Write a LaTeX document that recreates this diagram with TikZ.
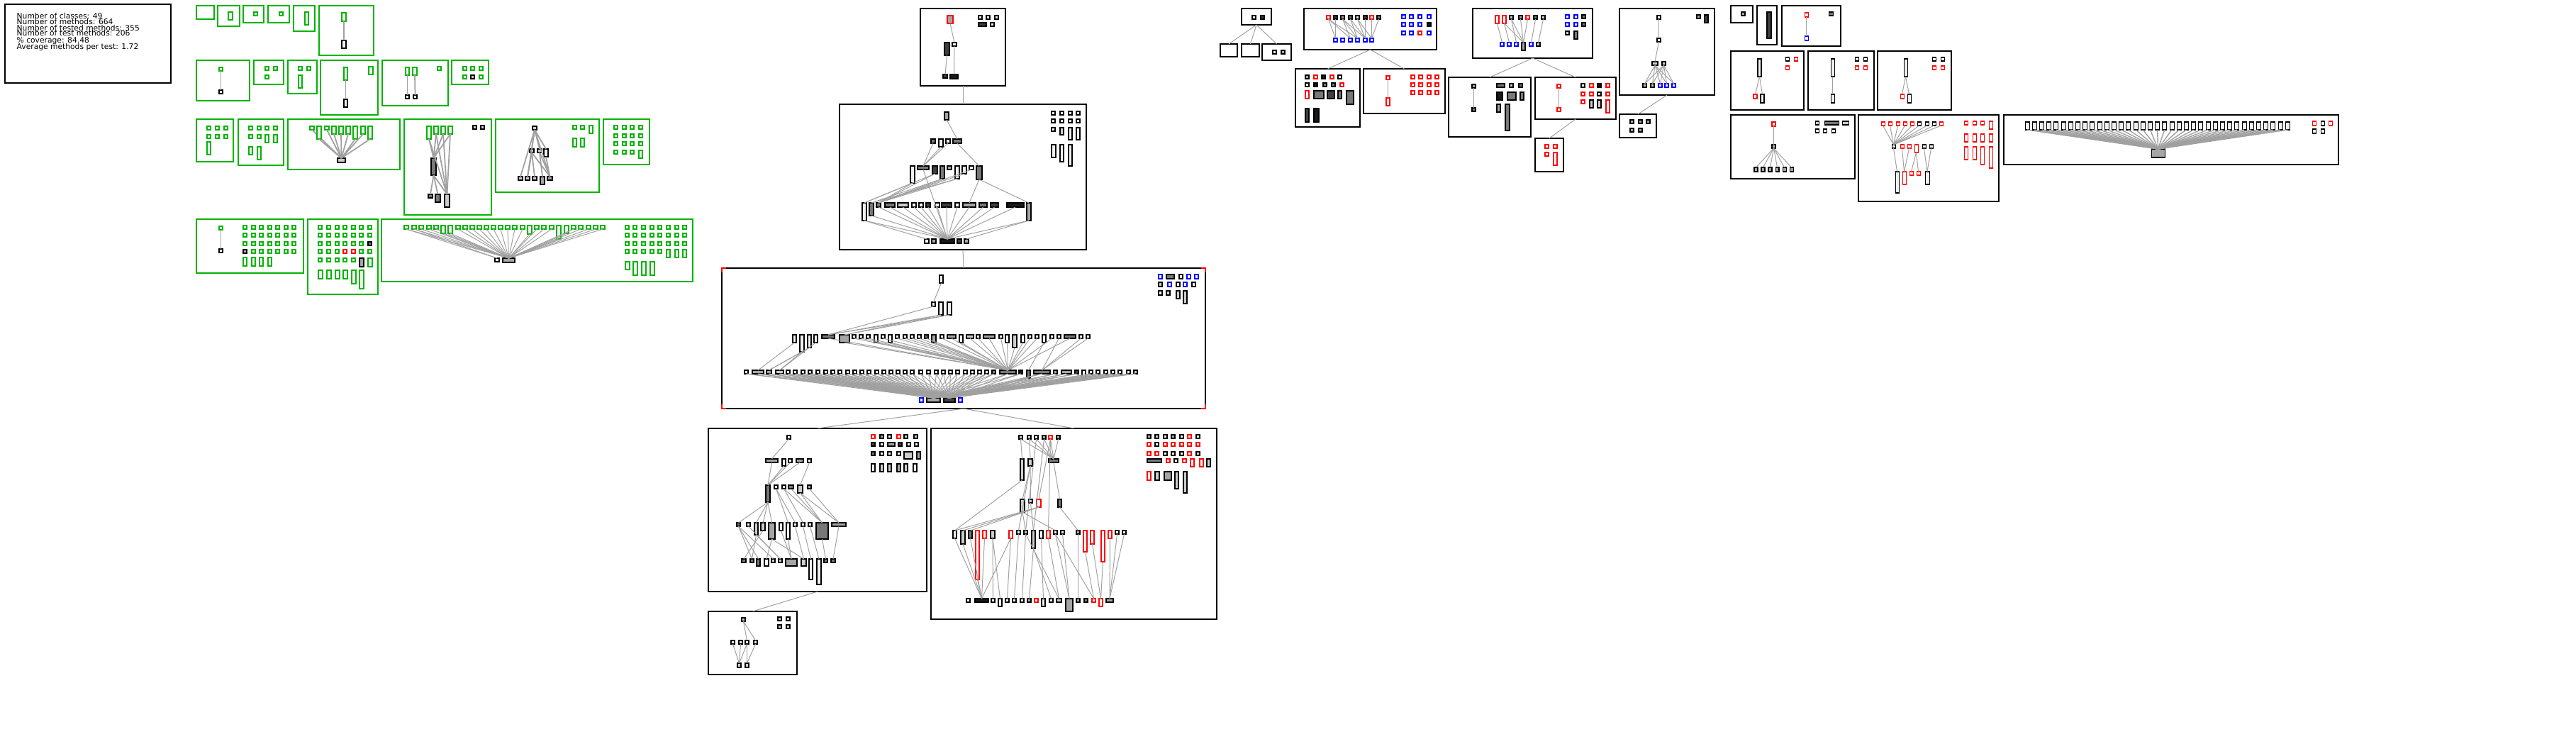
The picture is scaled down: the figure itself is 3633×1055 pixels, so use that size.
\documentclass[tikz,border=0pt]{standalone}
\usepackage{fontspec}
\setmainfont{DejaVu Sans}
\definecolor{wh}{RGB}{255,255,255}
\definecolor{lt}{RGB}{240,240,240}
\definecolor{ga}{RGB}{205,205,205}
\definecolor{gb}{RGB}{165,165,165}
\definecolor{gc}{RGB}{120,120,120}
\definecolor{gd}{RGB}{64,64,64}
\definecolor{kk}{RGB}{25,25,25}
\definecolor{bk}{RGB}{0,0,0}
\definecolor{rd}{RGB}{255,0,0}
\definecolor{bl}{RGB}{0,0,255}
\definecolor{gn}{RGB}{0,180,0}
\definecolor{eg}{RGB}{160,160,160}
\newcommand\pxu{0.1mm}
\newcommand\NNd[7]{\node[nd,fill=#6,draw=#7,minimum width={#4*\pxu},minimum height={#5*\pxu},anchor=north west] (#1) at (#2,#3) {};}
\newcommand\GNd[5]{\node[nd,fill=lt,draw=gn,line width=0.45pt,minimum width={#4*\pxu},minimum height={#5*\pxu},anchor=north west] (#1) at (#2,#3) {};}
\newcommand\CCl[6]{\node[#6,minimum width={(#4-#2)*\pxu},minimum height={(#5-#3)*\pxu},anchor=north west] (#1) at (#2,#3) {};}
\newcommand\EEd[2]{\draw[ed] (#1.south) -- (#2.north);}
\newcommand\EEg[2]{\draw[edg] (#1.south) -- (#2.north);}
\tikzset{
  nd/.style={rectangle,inner sep=0pt,outer sep=0pt,line width=0.3pt},
  ed/.style={draw=eg,line width=0.28pt},
  edg/.style={draw=eg,line width=0.5pt},
  bbox/.style={rectangle,draw=bk,line width=0.55pt,inner sep=0pt,outer sep=0pt,fill=white},
  gbox/.style={rectangle,draw=gn,line width=0.6pt,inner sep=0pt,outer sep=0pt,fill=white},
  stat/.style={anchor=base west,inner sep=0pt,font=\fontsize{3.05}{3.2}\selectfont},
}
\begin{document}
\begin{tikzpicture}[x=0.1mm,y=-0.1mm]
\fill[white] (0,0) rectangle (3633,1055);
\useasboundingbox (0,0) rectangle (3633,1055);

% ---------- statistics ----------
\CCl{stats}{7}{6}{241}{117}{bbox}
\node[stat] (s1) at (23,26) {Number of classes: 49};
\node[stat] (s2) at (23,34.7) {Number of methods: 664};
\node[stat] (s3) at (23,43.3) {Number of tested methods: 355};
\node[stat] (s4) at (23,50.7) {Number of test methods: 206};
\node[stat] (s5) at (23,60) {\% coverage: 84.48};
\node[stat] (s6) at (23,69) {Average methods per test: 1.72};

% ---------- green clusters ----------
\CCl{g1}{277}{8}{302}{27}{gbox}
\CCl{g2}{307}{8}{338}{37}{gbox} \GNd{g2a}{322}{17}{6}{11}
\CCl{g3}{343}{8}{372}{32}{gbox} \GNd{g3a}{358}{17}{5}{5}
\CCl{g4}{378}{8}{408}{32}{gbox} \GNd{g4a}{394}{17}{5}{5}
\CCl{g5}{414}{8}{444}{44}{gbox} \GNd{g5a}{430}{17}{5}{18}
\CCl{g6}{450}{8}{527}{78}{gbox} \GNd{g6a}{482}{18}{6}{12} \NNd{g6b}{482}{57}{6}{11}{lt}{bk} \EEg{g6a}{g6b}

\CCl{g7}{277}{85}{352}{142}{gbox} \GNd{g7a}{309}{95}{5}{5} \NNd{g7b}{309}{127}{5}{5}{wh}{bk} \EEg{g7a}{g7b}
\CCl{g8}{358}{85}{400}{119}{gbox} \GNd{g8a}{374}{94}{5}{5} \GNd{g8b}{386}{94}{5}{5} \GNd{g8c}{374}{106}{5}{5}
\CCl{g9}{406}{85}{447}{132}{gbox} \GNd{g9a}{421}{94}{5}{5} \GNd{g9b}{433}{94}{5}{5} \GNd{g9c}{421}{106}{5}{18}
\CCl{g10}{452}{85}{533}{162}{gbox} \GNd{g10a}{485}{95}{5}{18} \GNd{g10b}{520}{94}{6}{11} \NNd{g10c}{485}{140}{5}{11}{lt}{bk} \EEg{g10a}{g10c}
\CCl{g11}{539}{85}{632}{149}{gbox} \GNd{g11a}{572}{95}{5}{11} \GNd{g11b}{582}{95}{6}{11} \GNd{g11c}{617}{94}{5}{5}
\NNd{g11d}{572}{134}{5}{5}{wh}{bk} \NNd{g11e}{583}{134}{5}{5}{wh}{bk} \EEg{g11a}{g11d} \EEg{g11b}{g11e}
\CCl{g12}{637}{85}{689}{119}{gbox}
\GNd{g12a}{653}{94}{5}{5} \GNd{g12b}{664}{94}{5}{5} \GNd{g12c}{676}{94}{5}{5}
\GNd{g12d}{653}{106}{5}{5} \NNd{g12e}{664}{106}{5}{5}{ga}{bk} \GNd{g12f}{676}{106}{5}{5}

\CCl{g13}{277}{168}{329}{228}{gbox}
\foreach \x [count=\i] in {292,304,316}{\GNd{g13a\i}{\x}{178}{5}{5} \GNd{g13b\i}{\x}{190}{5}{5}}
\GNd{g13c}{292}{200}{5}{18}
\CCl{g14}{336}{168}{400}{233}{gbox}
\foreach \x [count=\i] in {351,363,374,386}{\GNd{g14a\i}{\x}{178}{5}{5}}
\GNd{g14b1}{351}{190}{5}{5} \GNd{g14b2}{363}{190}{5}{5} \GNd{g14b3}{374}{190}{5}{11} \GNd{g14b4}{386}{190}{5}{11}
\GNd{g14c1}{351}{207}{5}{11} \GNd{g14c2}{363}{207}{5}{18}
\CCl{g15}{406}{168}{564}{239}{gbox}
\NNd{g15b}{476}{223}{11}{6}{ga}{bk}
\foreach \x/\hh [count=\i] in {437/5,447/18,458/5,468/11,478/11,488/11,498/18,509/11,519/18}{\GNd{g15t\i}{\x}{178}{6}{\hh} \EEg{g15t\i}{g15b}}

\CCl{g16}{570}{168}{693}{303}{gbox}
\NNd{g16m}{608}{223}{7}{24}{gc}{bk}
\NNd{g16b1}{604}{274}{6}{5}{gc}{bk} \NNd{g16b2}{614}{274}{7}{11}{gc}{bk} \NNd{g16b3}{627}{274}{7}{18}{ga}{bk}
\foreach \x/\hh [count=\i] in {602/18,612/11,622/11,632/11}{\GNd{g16t\i}{\x}{178}{6}{\hh} \EEg{g16t\i}{g16m} \EEg{g16t\i}{g16b3}}
\NNd{g16s1}{667}{177}{5}{5}{ga}{bk} \NNd{g16s2}{678}{177}{5}{5}{ga}{bk}
\EEg{g16m}{g16b1} \EEg{g16m}{g16b2} \EEg{g16m}{g16b3}

\CCl{g17}{699}{168}{845}{271}{gbox}
\NNd{g17t}{751}{178}{6}{5}{ga}{bk}
\NNd{g17m1}{747}{210}{6}{5}{ga}{bk} \NNd{g17m2}{758}{210}{6}{5}{ga}{bk} \NNd{g17m3}{767}{210}{6}{11}{lt}{bk}
\NNd{g17b1}{731}{249}{6}{5}{ga}{bk} \NNd{g17b2}{741}{249}{6}{5}{ga}{bk} \NNd{g17b3}{751}{249}{6}{5}{ga}{bk}
\NNd{g17b4}{762}{249}{6}{11}{gb}{bk} \NNd{g17b5}{772}{249}{7}{5}{gb}{bk}
\foreach \b in {m1,m2,m3,b1,b2,b5}{\EEg{g17t}{g17\b}}
\EEg{g17m1}{g17b2} \EEg{g17m1}{g17b3} \EEg{g17m1}{g17b5} \EEg{g17m2}{g17b4} \EEg{g17m2}{g17b5} \EEg{g17m3}{g17b5}
\GNd{g17g1}{808}{177}{5}{5} \GNd{g17g2}{819}{177}{5}{5} \GNd{g17g3}{831}{177}{5}{11} \GNd{g17g4}{808}{195}{5}{12} \GNd{g17g5}{819}{195}{5}{12}

\CCl{g18}{851}{168}{916}{232}{gbox}
\foreach \x [count=\i] in {866,878,889,901}{\foreach \y [count=\j] in {177,189,200}{\GNd{g18-\i-\j}{\x}{\y}{5}{5}}}
\foreach \x [count=\i] in {866,878,889}{\GNd{g18-\i-4}{\x}{212}{5}{5}}
\GNd{g18-4-4}{901}{212}{5}{11}

\CCl{g19}{277}{309}{428}{385}{gbox}
\GNd{g19a}{309}{319}{5}{5} \NNd{g19b}{309}{351}{5}{5}{wh}{bk} \EEg{g19a}{g19b}
\foreach \x [count=\i] in {343,355,366,378,389,401,412}{\GNd{g19p\i}{\x}{318}{5}{5} \GNd{g19q\i}{\x}{329}{5}{5} \GNd{g19r\i}{\x}{341}{5}{5}}
\NNd{g19s1}{343}{352}{5}{5}{gb}{bk}
\foreach \x [count=\i] in {355,366,378,389,401,412}{\GNd{g19s-\i}{\x}{352}{5}{5}}
\foreach \x [count=\i] in {343,355,366,378}{\GNd{g19u\i}{\x}{363}{5}{12}}

\CCl{g20}{434}{309}{533}{415}{gbox}
\foreach \x [count=\i] in {449,461,473,484,496,507,519}{\GNd{g20a\i}{\x}{318}{5}{5} \GNd{g20b\i}{\x}{329}{5}{5}}
\foreach \x [count=\i] in {449,461,473,484,496,507}{\GNd{g20c\i}{\x}{341}{5}{5}}
\NNd{g20c7}{519}{341}{5}{5}{gc}{bk}
\foreach \x [count=\i] in {449,461,473,507,519}{\GNd{g20d\i}{\x}{352}{5}{5}}
\NNd{g20d6}{484}{352}{5}{5}{wh}{rd} \NNd{g20d7}{496}{352}{5}{5}{wh}{rd}
\foreach \x [count=\i] in {449,461,473,484,496}{\GNd{g20e\i}{\x}{364}{5}{5}}
\NNd{g20e6}{507}{364}{6}{12}{gb}{bk} \GNd{g20e7}{519}{364}{6}{12}
\foreach \x/\hh [count=\i] in {449/12,461/12,473/12,484/12,496/19,507/26}{\GNd{g20f\i}{\x}{381}{6}{\hh}}

\CCl{g21}{538}{309}{977}{397}{gbox}
\NNd{g21s}{698}{364}{6}{5}{wh}{bk} \NNd{g21b}{709}{364}{17}{6}{gb}{bk}
\foreach \x/\hh [count=\i] in {570/5,581/5,591/5,602/5,612/5,622/11,632/11,643/5,653/5,663/5,673/5,683/5,693/5,703/5,713/5,723/5,734/5,744/12,754/5,764/5,775/5,785/19,796/11,806/5,816/5,827/5,837/5,847/5}{\GNd{g21t\i}{\x}{318}{6}{\hh} \EEd{g21t\i}{g21b}}
\EEd{g21t1}{g21s} \EEd{g21t2}{g21s}
\foreach \x [count=\i] in {882,893,905,917,928,940,952,963}{\GNd{g21ga\i}{\x}{318}{5}{5} \GNd{g21gb\i}{\x}{329}{5}{5} \GNd{g21gc\i}{\x}{341}{5}{5}}
\foreach \x [count=\i] in {882,893,905,917,928}{\GNd{g21gd\i}{\x}{352}{5}{5}}
\foreach \x [count=\i] in {940,952,963}{\GNd{g21ge\i}{\x}{352}{5}{11}}
\GNd{g21gf1}{882}{369}{6}{11}
\foreach \x [count=\i] in {893,905,917}{\GNd{g21gg\i}{\x}{369}{6}{19}}

% ---------- central chain ----------
\CCl{c1}{1298}{12}{1418}{121}{bbox}
\NNd{c1a}{1336}{22}{8}{11}{gb}{rd}
\foreach \x [count=\i] in {1380,1391,1403}{\NNd{c1s\i}{\x}{22}{5}{5}{lt}{bk}}
\NNd{c1h}{1380}{32}{11}{5}{gd}{bk} \NNd{c1s4}{1397}{32}{5}{5}{lt}{bk}
\NNd{c1d}{1332}{60}{7}{18}{gd}{bk} \NNd{c1l}{1343}{60}{6}{5}{lt}{bk}
\NNd{c1e}{1330}{105}{6}{5}{gd}{bk} \NNd{c1k}{1340}{105}{11}{6}{kk}{bk}
\EEd{c1a}{c1l} \EEd{c1l}{c1k} \EEd{c1d}{c1e}

\CCl{c2}{1184}{147}{1532}{352}{bbox}
\NNd{c2t}{1332}{158}{6}{11}{gb}{bk}
\NNd{c2b1}{1313}{196}{6}{6}{gc}{bk} \NNd{c2b2}{1324}{196}{6}{11}{lt}{bk}
\NNd{c2b3}{1334}{196}{6}{6}{wh}{bk} \NNd{c2b4}{1344}{196}{12}{6}{gc}{bk}
\foreach \x/\ww/\hh/\fc [count=\i] in {1284/6/24/lt,1294/16/5/gc,1315/7/11/gd,1326/6/18/gc,1336/6/5/gb,1347/6/18/lt,1357/6/11/lt,1367/6/5/wh,1377/8/19/gc}{\NNd{c2c\i}{\x}{234}{\ww}{\hh}{\fc}{bk}}
\foreach \x/\ww/\hh/\fc [count=\i] in {1216/6/25/lt,1226/6/18/gc,1236/6/6/gc,1248/14/6/gc,1266/15/6/ga,1286/6/6/wh,1296/6/6/wh,1306/6/6/gd,1319/6/6/wh,1328/14/6/gd,1347/6/6/wh,1358/18/6/gb,1381/11/6/gc,1397/11/6/gd,1420/24/6/kk,1448/6/25/gb}{\NNd{c2d\i}{\x}{286}{\ww}{\hh}{\fc}{bk}}
\foreach \x/\ww/\fc [count=\i] in {1304/6/wh,1314/6/gb,1326/20/kk,1350/6/gd,1360/6/gb}{\NNd{c2e\i}{\x}{337}{\ww}{6}{\fc}{bk}}
\foreach \x [count=\i] in {1483,1495,1507,1518}{\NNd{c2g1-\i}{\x}{157}{5}{5}{wh}{bk} \NNd{c2g2-\i}{\x}{168}{5}{5}{wh}{bk}}
\NNd{c2g3-1}{1483}{180}{5}{5}{wh}{bk} \NNd{c2g3-2}{1495}{180}{5}{10}{ga}{bk}
\NNd{c2g3-3}{1507}{180}{5}{17}{lt}{bk} \NNd{c2g3-4}{1518}{180}{5}{17}{lt}{bk}
\NNd{c2g4-1}{1483}{204}{6}{18}{lt}{bk} \NNd{c2g4-2}{1495}{204}{5}{24}{lt}{bk} \NNd{c2g4-3}{1507}{204}{5}{30}{lt}{bk}
\EEd{c2t}{c2b4}
\foreach \i in {1,2,3}{\EEd{c2b\i}{c2c2}}
\EEd{c2b4}{c2c9}
\foreach \a/\b in {1/1,1/3,3/1,3/3,4/2,4/3,6/2,6/3,7/3,8/3,9/12,9/16}{\EEd{c2c\a}{c2d\b}}
\EEd{c2c2}{c2e3}
\EEd{c2d1}{c2e1}
\foreach \i in {1,...,16}{\EEd{c2d\i}{c2e3}}
\EEd{c2d16}{c2e5}

\CCl{c3}{1018}{378}{1700}{576}{bbox}
\draw[rd,line width=0.8pt] (1018,384)--(1018,378)--(1024,378) (1694,378)--(1700,378)--(1700,384) (1018,570)--(1018,576)--(1024,576) (1694,576)--(1700,576)--(1700,570);
\NNd{c3t}{1325}{388}{5}{11}{lt}{bk}
\NNd{c3u1}{1314}{426}{5}{6}{lt}{bk} \NNd{c3u2}{1324}{426}{6}{18}{lt}{bk} \NNd{c3u3}{1336}{426}{6}{18}{lt}{bk}
\foreach \x/\ww/\hh/\fc [count=\i] in {1118/5/11/lt,1128/6/24/lt,1139/5/18/lt,1148/5/11/lt,1159/18/5/gc,1184/14/11/gb,1202/5/5/wh,1212/5/5/wh,1222/5/5/wh,1233/5/11/wh,1243/5/5/wh,1253/5/11/wh,1263/5/5/wh,1274/5/5/wh,1284/5/5/wh,1294/5/5/wh,1304/5/5/gc,1314/6/11/gb,1326/5/5/wh,1336/12/5/gb,1353/5/11/wh,1363/10/5/ga,1377/5/5/wh,1387/16/5/gb,1409/5/5/wh,1418/5/11/wh,1428/6/18/ga,1440/5/11/wh,1450/5/5/wh,1460/5/5/wh,1470/5/11/wh,1481/5/5/wh,1491/5/5/wh,1501/16/5/gc,1522/5/5/wh,1532/5/5/wh}{\NNd{c3v\i}{\x}{472}{\ww}{\hh}{\fc}{bk}}
\foreach \x/\ww/\hh/\fc [count=\i] in {1050/5/5/wh,1061/16/5/gb,1081/7/5/gb,1094/11/5/ga,1109/5/5/wh,1119/5/5/wh,1130/5/5/wh,1140/5/5/ga,1151/5/5/wh,1162/5/5/wh,1172/5/5/wh,1182/5/5/wh,1193/5/5/wh,1203/5/5/wh,1213/5/5/wh,1223/5/5/wh,1234/5/5/wh,1244/5/5/wh,1254/5/5/wh,1264/5/5/wh,1274/5/5/wh,1284/5/5/wh,1296/5/5/wh,1307/5/5/wh,1318/5/5/wh,1328/5/5/wh,1338/5/5/wh,1348/5/5/wh,1359/5/5/wh,1369/5/5/wh,1379/5/5/wh,1389/5/5/wh,1399/5/5/gc,1410/23/5/gc,1437/5/5/kk,1448/5/11/gc,1458/23/5/gc,1486/5/5/gb,1497/14/5/gb,1516/5/5/gd,1526/5/11/wh,1536/5/5/wh,1546/5/5/wh,1557/5/5/wh,1567/5/5/wh,1577/5/5/lt,1589/5/5/wh,1599/5/5/ga}{\NNd{c3w\i}{\x}{522}{\ww}{\hh}{\fc}{bk}}
\NNd{c3b1}{1297}{561}{5}{6}{wh}{bl} \NNd{c3b2}{1307}{561}{19}{6}{gb}{bk}
\NNd{c3b3}{1331}{561}{16}{6}{gd}{bk} \NNd{c3b4}{1352}{561}{5}{6}{wh}{bl}
\NNd{c3g1}{1634}{387}{5}{6}{wh}{bl} \NNd{c3g2}{1645}{387}{11}{6}{gc}{bk} \NNd{c3g3}{1663}{387}{5}{6}{wh}{bk} \NNd{c3g4}{1674}{387}{5}{6}{wh}{bl} \NNd{c3g5}{1685}{387}{5}{6}{wh}{bl}
\NNd{c3g6}{1634}{398}{5}{6}{ga}{bk} \NNd{c3g7}{1647}{398}{5}{6}{wh}{bl} \NNd{c3g8}{1659}{398}{5}{6}{wh}{bk} \NNd{c3g9}{1669}{398}{5}{6}{wh}{bl} \NNd{c3g10}{1681}{398}{5}{6}{wh}{bk}
\NNd{c3g11}{1634}{410}{5}{6}{wh}{bk} \NNd{c3g12}{1645}{410}{5}{6}{ga}{bk} \NNd{c3g13}{1659}{410}{5}{11}{ga}{bk} \NNd{c3g14}{1669}{410}{5}{18}{ga}{bk}
\EEd{c3t}{c3u1} \EEd{c3u1}{c3v5} \EEd{c3u2}{c3v5} \EEd{c3u2}{c3v6} \EEd{c3u3}{c3v5} \EEd{c3u3}{c3v6}
\EEd{c3v1}{c3w2} \EEd{c3v2}{c3w3} \EEd{c3v2}{c3w4} \EEd{c3v3}{c3w3} \EEd{c3v4}{c3w4}
\foreach \i in {5,...,30}{\EEd{c3v\i}{c3w34}}
\EEd{c3v32}{c3w34} \EEd{c3v34}{c3w34}
\EEd{c3v31}{c3w36} \EEd{c3v33}{c3w37} \EEd{c3v35}{c3w37} \EEd{c3v36}{c3w37}
\foreach \i in {1,...,48}{\EEd{c3w\i}{c3b2} \EEd{c3w\i}{c3b3}}

\CCl{c4}{999}{604}{1307}{834}{bbox}
\NNd{c4t}{1110}{614}{5}{5}{lt}{bk}
\foreach \x/\ww/\hh/\fc [count=\i] in {1080/17/5/gb,1103/5/10/lt,1112/5/5/wh,1123/10/5/gb,1139/5/5/wh}{\NNd{c4a\i}{\x}{647}{\ww}{\hh}{\fc}{bk}}
\foreach \x/\ww/\hh/\fc [count=\i] in {1080/6/24/gc,1092/5/5/wh,1103/5/5/wh,1112/7/5/gc,1125/7/11/ga,1139/5/5/gb}{\NNd{c4b\i}{\x}{684}{\ww}{\hh}{\fc}{bk}}
\foreach \x/\ww/\hh/\fc [count=\i] in {1039/5/5/gc,1053/5/5/wh,1064/5/17/ga,1073/6/11/ga,1084/9/23/gb,1099/5/11/wh,1109/5/23/lt,1119/5/5/wh,1130/5/5/wh,1140/5/5/wh,1151/17/23/gc,1173/20/5/gb}{\NNd{c4c\i}{\x}{737}{\ww}{\hh}{\fc}{bk}}
\foreach \x/\ww/\hh/\fc [count=\i] in {1046/6/5/gc,1058/5/5/gc,1067/5/10/gc,1078/6/10/wh,1088/5/5/ga,1098/5/5/ga,1108/16/10/gb,1130/7/10/ga,1141/5/29/lt,1152/6/36/lt,1162/5/5/gc,1172/6/5/gc}{\NNd{c4d\i}{\x}{788}{\ww}{\hh}{\fc}{bk}}
\foreach \x/\ww/\fc/\dc [count=\i] in {1229/5/wh/rd,1241/5/gb/bk,1252/5/wh/bk,1265/5/wh/rd,1275/5/ga/bk,1289/5/ga/bk}{\NNd{c4ga\i}{\x}{613}{\ww}{5}{\fc}{\dc}}
\foreach \x/\ww/\fc [count=\i] in {1229/5/gd,1241/5/wh,1252/10/gb,1267/5/gd,1279/5/wh,1290/5/wh}{\NNd{c4gb\i}{\x}{624}{\ww}{5}{\fc}{bk}}
\foreach \x/\ww/\hh/\fc [count=\i] in {1229/5/5/gc,1241/5/5/wh,1252/5/5/wh,1265/5/5/wh,1275/12/10/ga,1293/5/10/gb}{\NNd{c4gc\i}{\x}{637}{\ww}{\hh}{\fc}{bk}}
\foreach \x/\fc [count=\i] in {1229/wh,1241/ga,1252/ga,1265/gb,1275/ga,1288/wh}{\NNd{c4gd\i}{\x}{654}{5}{11}{\fc}{bk}}
\EEd{c4t}{c4a1}
\foreach \i in {1,...,4}{\EEd{c4a\i}{c4b1}}
\EEd{c4a5}{c4b5}
\foreach \a/\b in {1/1,1/3,1/4,1/5,2/7,3/11,4/11,5/11,5/12,6/12,2/8,3/9}{\EEd{c4b\a}{c4c\b}}
\foreach \a/\b in {1/3,1/5,2/6,3/2,4/1,5/4,6/7,7/7,8/8,9/9,10/10,11/11,12/12,3/6,5/8,1/2}{\EEd{c4c\a}{c4d\b}}

\CCl{c5}{1313}{604}{1716}{873}{bbox}
\foreach \x/\fc/\dc [count=\i] in {1437/ga/bk,1449/ga/bk,1459/wh/bk,1470/gb/bk,1479/wh/rd,1490/gb/bk}{\NNd{c5t\i}{\x}{614}{5}{5}{\fc}{\dc}}
\NNd{c5a1}{1439}{647}{5}{30}{ga}{bk} \NNd{c5a2}{1450}{647}{6}{10}{ga}{bk} \NNd{c5a3}{1479}{647}{14}{5}{gc}{bk}
\NNd{c5b1}{1439}{704}{6}{18}{ga}{bk} \NNd{c5b2}{1451}{704}{5}{5}{ga}{bk} \NNd{c5b3}{1462}{704}{6}{11}{wh}{rd} \NNd{c5b4}{1492}{704}{5}{11}{gc}{bk}
\foreach \x/\ww/\hh/\fc/\dc [count=\i] in {1344/5/11/lt/bk,1355/6/19/ga/bk,1366/5/11/gc/bk,1376/5/69/wh/rd,1386/5/11/wh/rd,1397/6/11/ga/bk,1423/5/11/wh/rd,1434/5/5/wh/bk,1444/5/5/ga/bk,1455/5/25/ga/bk,1466/5/11/wh/bk,1476/5/11/wh/rd,1486/5/5/wh/bk,1496/5/5/wh/bk,1518/5/5/gb/bk,1528/5/30/wh/rd,1538/5/19/wh/rd,1553/5/44/wh/rd,1563/5/11/wh/rd,1573/5/5/wh/bk,1583/5/5/wh/bk}{\NNd{c5r4-\i}{\x}{748}{\ww}{\hh}{\fc}{\dc}}
\foreach \x/\ww/\hh/\fc/\dc [count=\i] in {1363/5/5/wh/bk,1375/19/5/kk/bk,1398/5/5/wh/bk,1408/5/11/lt/bk,1418/5/5/wh/bk,1428/5/5/wh/bk,1439/5/5/wh/bk,1449/5/5/gb/bk,1459/5/5/wh/rd,1469/5/11/lt/bk,1480/5/5/wh/bk,1490/7/5/ga/bk,1503/10/18/gb/bk,1518/5/5/gb/bk,1529/5/5/gc/bk,1540/5/5/wh/rd,1550/5/11/wh/rd,1560/10/5/gb/bk}{\NNd{c5r5-\i}{\x}{844}{\ww}{\hh}{\fc}{\dc}}
\foreach \x/\fc/\dc [count=\i] in {1618/gb/bk,1629/ga/bk,1641/wh/bk,1652/gb/bk,1664/wh/bk,1675/wh/rd,1687/wh/bk}{\NNd{c5ga\i}{\x}{613}{5}{5}{\fc}{\dc}}
\foreach \x/\fc/\dc [count=\i] in {1618/wh/rd,1629/wh/bk,1641/wh/rd,1652/wh/rd,1664/wh/rd,1675/wh/rd,1687/wh/rd}{\NNd{c5gb\i}{\x}{624}{5}{5}{\fc}{\dc}}
\foreach \x/\fc/\dc [count=\i] in {1618/wh/rd,1629/wh/rd,1641/wh/bk,1652/wh/bk,1664/wh/bk,1675/wh/rd,1687/ga/bk}{\NNd{c5gc\i}{\x}{637}{5}{5}{\fc}{\dc}}
\foreach \x/\ww/\hh/\fc/\dc [count=\i] in {1618/20/5/gc/bk,1645/5/5/wh/rd,1656/5/5/wh/bk,1668/5/5/wh/rd,1679/5/11/wh/rd,1692/5/11/wh/rd,1702/5/11/ga/bk}{\NNd{c5gd\i}{\x}{647}{\ww}{\hh}{\fc}{\dc}}
\foreach \x/\ww/\hh/\fc/\dc [count=\i] in {1618/5/12/wh/rd,1629/6/12/ga/bk,1642/10/12/gb/bk,1657/5/24/ga/bk,1669/5/30/ga/bk}{\NNd{c5ge\i}{\x}{665}{\ww}{\hh}{\fc}{\dc}}
\foreach \i in {1,...,6}{\EEd{c5t\i}{c5a3}}
\EEd{c5t1}{c5a1} \EEd{c5t2}{c5a2} \EEd{c5t3}{c5r4-9} \EEd{c5t4}{c5r4-10} \EEd{c5t5}{c5r4-12} \EEd{c5t5}{c5b3}
\EEd{c5a1}{c5r4-1} \EEd{c5a2}{c5b1} \EEd{c5a2}{c5b2} \EEd{c5a2}{c5r4-8} \EEd{c5a3}{c5b4}
\EEd{c5b3}{c5r4-1} \EEd{c5b3}{c5r4-2} \EEd{c5b3}{c5r4-3} \EEd{c5b1}{c5r4-9} \EEd{c5b1}{c5r4-13} \EEd{c5b2}{c5r4-10} \EEd{c5b4}{c5r4-15}
\foreach \a/\b in {1/2,2/2,3/2,4/2,5/2,6/4,6/3,7/2,7/5,8/6,9/7,9/12,10/8,10/11,11/10,12/12,13/13,13/16,14/13,15/14,16/16,17/17,18/17,19/18,20/18,21/18}{\EEd{c5r4-\a}{c5r5-\b}}

\CCl{c6}{999}{862}{1124}{951}{bbox}
\NNd{c6t}{1046}{871}{5}{5}{ga}{bk}
\NNd{c6r1}{1097}{870}{5}{5}{ga}{bk} \NNd{c6r2}{1109}{870}{5}{5}{ga}{bk}
\NNd{c6r3}{1097}{881}{5}{5}{ga}{bk} \NNd{c6r4}{1109}{881}{5}{5}{ga}{bk}
\foreach \x [count=\i] in {1031,1042,1051,1063}{\NNd{c6m\i}{\x}{903}{5}{5}{lt}{bk}}
\NNd{c6b1}{1040}{935}{5}{6}{ga}{bk} \NNd{c6b2}{1051}{935}{5}{6}{ga}{bk}
\EEd{c6t}{c6m3} \EEd{c6t}{c6m4}
\EEd{c6m1}{c6b1} \EEd{c6m2}{c6b1} \EEd{c6m3}{c6b1} \EEd{c6m3}{c6b2} \EEd{c6m4}{c6b2}

\EEd{c1}{c2} \EEd{c2}{c3} \EEd{c3}{c4} \EEd{c3}{c5} \EEd{c4}{c6}

% ---------- right clusters ----------
\CCl{r1}{1751}{12}{1793}{35}{bbox}
\NNd{r1s1}{1766}{22}{5}{5}{lt}{bk} \NNd{r1s2}{1778}{22}{5}{5}{gd}{bk}
\CCl{r1a}{1721}{62}{1745}{80}{bbox} \CCl{r1b}{1751}{62}{1776}{80}{bbox} \CCl{r1c}{1780}{62}{1821}{85}{bbox}
\NNd{r1c1}{1795}{71}{5}{5}{lt}{bk} \NNd{r1c2}{1807}{71}{5}{5}{gb}{bk}
\EEd{r1}{r1a} \EEd{r1}{r1b} \EEd{r1}{r1c}

\CCl{r2}{1839}{12}{2026}{70}{bbox}
\foreach \x/\fc/\dc [count=\i] in {1871/wh/rd,1881/gd/bk,1891/gb/bk,1902/gc/bk,1912/lt/bk,1923/gd/bk,1932/wh/rd,1942/gc/bk}{\NNd{r2t\i}{\x}{22}{5}{5}{\fc}{\dc}}
\foreach \x [count=\i] in {1881,1891,1902,1912,1923,1932}{\NNd{r2u\i}{\x}{54}{5}{5}{wh}{bl}}
\foreach \x [count=\i] in {1977,1988,2000,2013}{\NNd{r2g1-\i}{\x}{21}{5}{5}{wh}{bl}}
\foreach \x [count=\i] in {1977,1988,2000}{\NNd{r2g2-\i}{\x}{32}{5}{5}{wh}{bl}}
\NNd{r2g2-4}{2013}{32}{5}{5}{kk}{bk}
\NNd{r2g3-1}{1977}{44}{5}{5}{wh}{bl} \NNd{r2g3-2}{1988}{44}{5}{5}{wh}{bl} \NNd{r2g3-3}{2000}{44}{5}{5}{wh}{rd} \NNd{r2g3-4}{2013}{44}{5}{5}{wh}{bl}
\foreach \a/\b in {1/1,1/3,1/4,2/1,3/3,3/4,3/5,4/4,4/5,5/5,5/6,6/5,7/6,8/6}{\EEd{r2t\a}{r2u\b}}

\CCl{r2a}{1827}{97}{1918}{179}{bbox}
\foreach \x/\fc/\dc [count=\i] in {1841/gb/bk,1853/wh/rd,1864/kk/bk,1876/wh/rd,1887/wh/bk}{\NNd{r2ap\i}{\x}{106}{5}{5}{\fc}{\dc}}
\foreach \x/\fc/\dc [count=\i] in {1841/wh/bk,1853/kk/bk,1866/gc/bk,1878/gc/bk,1890/wh/rd}{\NNd{r2aq\i}{\x}{117}{5}{5}{\fc}{\dc}}
\NNd{r2ar1}{1841}{128}{5}{11}{wh}{rd} \NNd{r2ar2}{1853}{128}{14}{11}{gc}{bk} \NNd{r2ar3}{1872}{128}{10}{11}{gd}{bk}
\NNd{r2ar4}{1887}{128}{5}{11}{gc}{bk} \NNd{r2ar5}{1899}{128}{10}{19}{gc}{bk}
\NNd{r2as1}{1841}{153}{5}{19}{gd}{bk} \NNd{r2as2}{1853}{153}{7}{19}{kk}{bk}

\CCl{r2b}{1923}{97}{2038}{160}{bbox}
\NNd{r2bs}{1955}{107}{5}{5}{wh}{rd} \NNd{r2bt}{1955}{138}{5}{11}{wh}{rd} \EEd{r2bs}{r2bt}
\foreach \x [count=\i] in {1990,2001,2013,2024}{\foreach \y [count=\j] in {106,117,128}{\NNd{r2bg\i-\j}{\x}{\y}{5}{5}{wh}{rd}}}
\EEd{r2}{r2a} \EEd{r2}{r2b}

\CCl{r3}{2077}{12}{2246}{82}{bbox}
\foreach \x/\hh/\fc/\dc [count=\i] in {2109/11/wh/rd,2119/11/wh/rd,2129/5/ga/bk,2142/5/gb/bk,2152/5/wh/rd,2163/5/gc/bk,2174/5/ga/bk}{\NNd{r3t\i}{\x}{22}{5}{\hh}{\fc}{\dc}}
\foreach \x/\hh/\fc/\dc [count=\i] in {2116/5/wh/bl,2126/5/wh/bl,2136/5/wh/bl,2146/11/gb/bk,2157/5/wh/bl,2167/5/ga/bk}{\NNd{r3u\i}{\x}{60}{5}{\hh}{\fc}{\dc}}
\NNd{r3g1}{2208}{21}{5}{5}{wh}{bl} \NNd{r3g2}{2220}{21}{5}{5}{wh}{bl} \NNd{r3g3}{2231}{21}{5}{5}{gc}{bk}
\NNd{r3g4}{2208}{32}{5}{5}{wh}{bl} \NNd{r3g5}{2220}{32}{5}{5}{wh}{bl} \NNd{r3g6}{2231}{32}{5}{5}{gc}{bk}
\NNd{r3g7}{2208}{44}{5}{5}{ga}{bk} \NNd{r3g8}{2220}{44}{5}{11}{gc}{bk}
\foreach \a/\b in {1/1,2/2,2/4,3/3,3/4,4/4,5/4,6/5,7/6}{\EEd{r3t\a}{r3u\b}}

\CCl{r3a}{2043}{109}{2159}{193}{bbox}
\NNd{r3a1}{2076}{119}{5}{5}{gb}{bk} \NNd{r3a2}{2076}{152}{5}{5}{gc}{bk} \EEd{r3a1}{r3a2}
\NNd{r3a3}{2111}{118}{11}{5}{gc}{bk} \NNd{r3a4}{2129}{118}{5}{5}{ga}{bk} \NNd{r3a5}{2142}{118}{5}{5}{gc}{bk}
\NNd{r3a6}{2111}{130}{8}{11}{kk}{bk} \NNd{r3a7}{2126}{130}{12}{11}{gc}{bk} \NNd{r3a8}{2144}{130}{5}{11}{gc}{bk}
\NNd{r3a9}{2111}{147}{5}{11}{gb}{bk} \NNd{r3a10}{2123}{147}{6}{37}{gc}{bk}

\CCl{r3b}{2165}{109}{2279}{168}{bbox}
\NNd{r3b1}{2196}{119}{5}{5}{wh}{rd} \NNd{r3b2}{2196}{152}{5}{5}{wh}{rd} \EEd{r3b1}{r3b2}
\foreach \x/\fc/\dc [count=\i] in {2230/wh/bk,2242/wh/rd,2253/kk/bk,2265/wh/rd}{\NNd{r3bp\i}{\x}{118}{5}{5}{\fc}{\dc}}
\foreach \x/\fc/\dc [count=\i] in {2230/wh/rd,2242/wh/rd,2253/ga/bk,2265/wh/rd}{\NNd{r3bq\i}{\x}{130}{5}{5}{\fc}{\dc}}
\NNd{r3br1}{2230}{141}{5}{5}{wh}{rd} \NNd{r3br2}{2242}{141}{5}{11}{ga}{bk} \NNd{r3br3}{2253}{141}{5}{11}{ga}{bk} \NNd{r3br4}{2265}{141}{5}{18}{wh}{rd}

\CCl{r3c}{2165}{195}{2205}{242}{bbox}
\NNd{r3c1}{2179}{204}{5}{5}{wh}{rd} \NNd{r3c2}{2191}{204}{5}{5}{wh}{rd} \NNd{r3c3}{2179}{215}{5}{5}{wh}{rd} \NNd{r3c4}{2191}{215}{5}{18}{wh}{rd}
\EEd{r3}{r3a} \EEd{r3}{r3b} \EEd{r3b}{r3c}

\CCl{r4}{2284}{12}{2418}{134}{bbox}
\NNd{r4t}{2337}{22}{5}{5}{wh}{bk} \NNd{r4m}{2337}{54}{5}{5}{wh}{bk}
\NNd{r4h}{2330}{87}{8}{5}{ga}{bk} \NNd{r4l}{2344}{87}{5}{5}{ga}{bk}
\foreach \x/\fc/\dc [count=\i] in {2317/ga/bk,2328/ga/bk,2339/wh/bl,2348/wh/bl,2358/wh/bl}{\NNd{r4b\i}{\x}{118}{5}{5}{\fc}{\dc} \EEd{r4h}{r4b\i} \EEd{r4l}{r4b\i}}
\NNd{r4r1}{2393}{21}{5}{5}{gb}{bk} \NNd{r4r2}{2404}{21}{5}{11}{gd}{bk}
\EEd{r4t}{r4m} \EEd{r4m}{r4h}
\CCl{r4a}{2284}{161}{2336}{194}{bbox}
\foreach \x [count=\i] in {2299,2311,2322}{\NNd{r4ap\i}{\x}{169}{5}{5}{gb}{bk}}
\foreach \x [count=\i] in {2299,2311}{\NNd{r4aq\i}{\x}{181}{5}{5}{gb}{bk}}
\EEd{r4}{r4a}

% ---------- far right clusters ----------
\CCl{f1}{2441}{8}{2472}{32}{bbox} \NNd{f1a}{2456}{17}{5}{5}{gb}{bk}
\CCl{f2}{2478}{8}{2506}{63}{bbox} \NNd{f2a}{2492}{17}{6}{37}{gd}{bk}
\CCl{f3}{2513}{8}{2596}{65}{bbox}
\NNd{f3a}{2545}{18}{5}{6}{wh}{rd} \NNd{f3b}{2545}{51}{5}{6}{wh}{bl} \NNd{f3c}{2579}{17}{6}{5}{gc}{bk} \EEd{f3a}{f3b}

\CCl{f4}{2441}{72}{2544}{155}{bbox}
\NNd{f4a}{2479}{83}{5}{25}{lt}{bk} \NNd{f4b}{2473}{133}{5}{6}{wh}{rd} \NNd{f4c}{2483}{133}{5}{12}{lt}{bk}
\EEd{f4a}{f4b} \EEd{f4a}{f4c}
\NNd{f4d}{2518}{81}{5}{5}{wh}{bk} \NNd{f4e}{2530}{81}{5}{5}{wh}{rd} \NNd{f4f}{2518}{93}{5}{5}{wh}{rd}
\CCl{f5}{2550}{72}{2643}{155}{bbox}
\NNd{f5a}{2582}{83}{5}{25}{lt}{bk} \NNd{f5b}{2582}{133}{5}{12}{lt}{bk} \EEd{f5a}{f5b}
\NNd{f5c}{2616}{81}{5}{5}{wh}{bk} \NNd{f5d}{2628}{81}{5}{5}{wh}{bk} \NNd{f5e}{2616}{93}{5}{5}{wh}{rd} \NNd{f5f}{2628}{93}{5}{5}{wh}{rd}
\CCl{f6}{2648}{72}{2752}{155}{bbox}
\NNd{f6a}{2685}{83}{5}{25}{lt}{bk} \NNd{f6b}{2680}{133}{5}{6}{wh}{rd} \NNd{f6c}{2690}{133}{5}{12}{lt}{bk}
\EEd{f6a}{f6b} \EEd{f6a}{f6c}
\NNd{f6d}{2725}{81}{5}{5}{wh}{bk} \NNd{f6e}{2737}{81}{5}{5}{wh}{bk} \NNd{f6f}{2725}{93}{5}{5}{wh}{rd} \NNd{f6g}{2737}{93}{5}{5}{wh}{rd}

\CCl{f7}{2441}{162}{2616}{252}{bbox}
\NNd{f7a}{2499}{172}{5}{6}{wh}{rd} \NNd{f7b}{2499}{204}{5}{5}{ga}{bk} \EEd{f7a}{f7b}
\foreach \x [count=\i] in {2474,2484,2494,2504,2514,2524}{\NNd{f7c\i}{\x}{236}{5}{6}{gb}{bk} \EEd{f7b}{f7c\i}}
\NNd{f7d}{2560}{171}{5}{5}{ga}{bk} \NNd{f7e}{2573}{171}{20}{5}{gc}{bk} \NNd{f7f}{2598}{171}{9}{5}{ga}{bk}
\NNd{f7g}{2560}{182}{5}{5}{wh}{bk} \NNd{f7h}{2571}{182}{5}{5}{wh}{bk} \NNd{f7i}{2583}{182}{5}{5}{wh}{bk}

\CCl{f8}{2621}{162}{2819}{284}{bbox}
\NNd{f8m1}{2668}{204}{5}{5}{lt}{bk} \NNd{f8m2}{2680}{204}{5}{5}{wh}{rd} \NNd{f8m3}{2690}{204}{5}{5}{wh}{rd}
\NNd{f8m4}{2700}{204}{5}{11}{wh}{rd} \NNd{f8m5}{2711}{204}{5}{5}{lt}{bk} \NNd{f8m6}{2721}{204}{5}{5}{lt}{bk}
\foreach \x/\fc/\dc [count=\i] in {2653/wh/rd,2663/wh/rd,2674/wh/rd,2684/wh/rd,2694/wh/rd,2704/lt/bk,2715/lt/bk,2725/lt/bk,2735/wh/rd}{\NNd{f8t\i}{\x}{172}{5}{5}{\fc}{\dc} \EEd{f8t\i}{f8m1}}
\NNd{f8b1}{2673}{242}{5}{30}{lt}{bk} \NNd{f8b2}{2683}{242}{5}{18}{wh}{rd} \NNd{f8b3}{2693}{242}{5}{5}{wh}{rd}
\NNd{f8b4}{2703}{242}{5}{5}{wh}{rd} \NNd{f8b5}{2715}{242}{6}{18}{lt}{bk}
\EEd{f8m1}{f8b1} \EEd{f8m2}{f8b2} \EEd{f8m3}{f8b2} \EEd{f8m4}{f8b3} \EEd{f8m4}{f8b4} \EEd{f8m5}{f8b5} \EEd{f8m6}{f8b5}
\foreach \x/\hh [count=\i] in {2770/5,2782/5,2793/5,2805/11}{\NNd{f8ra\i}{\x}{171}{5}{\hh}{wh}{rd}}
\foreach \x [count=\i] in {2770,2782,2793,2805}{\NNd{f8rb\i}{\x}{189}{5}{11}{wh}{rd}}
\foreach \x/\hh [count=\i] in {2770/18,2782/18,2793/25,2805/30}{\NNd{f8rc\i}{\x}{207}{5}{\hh}{wh}{rd}}

\CCl{f9}{2826}{162}{3298}{232}{bbox}
\NNd{f9b}{3034}{210}{19}{12}{gb}{bk}
\foreach \i in {0,...,36}{\NNd{f9t\i}{2856+\i*10.2}{172}{6}{11}{lt}{bk} \draw[draw=eg,line width=0.4pt] (f9t\i.south) -- (f9b.north);}
\NNd{f9r1}{3261}{171}{5}{6}{wh}{rd} \NNd{f9r2}{3273}{171}{5}{6}{wh}{bk} \NNd{f9r3}{3284}{171}{5}{6}{wh}{rd}
\NNd{f9r4}{3261}{182}{5}{6}{wh}{bk} \NNd{f9r5}{3273}{182}{5}{6}{wh}{bk}
\end{tikzpicture}
\end{document}
